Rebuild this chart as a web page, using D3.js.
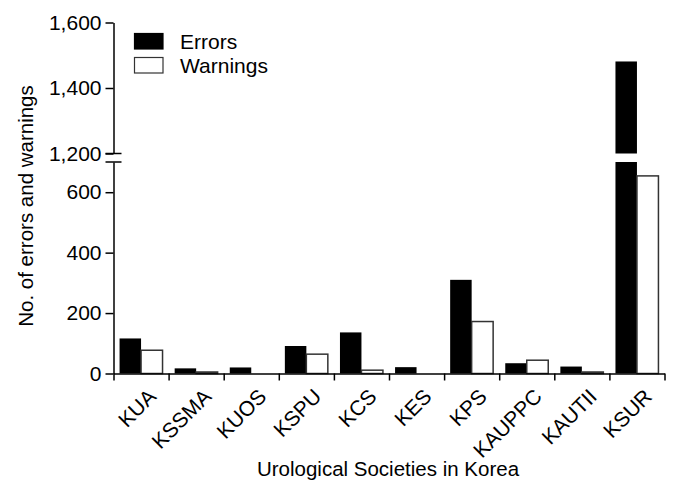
<!DOCTYPE html>
<html>
<head>
<meta charset="utf-8">
<script src="https://cdn.jsdelivr.net/npm/d3@7"></script>
<style>
  body { margin: 0; background: #fff; }
  text { font-family: "Liberation Sans", Arial, sans-serif; }
</style>
</head>
<body>
<div class="chart-wrapper"></div>
<script>
const societies = ['KUA', 'KSSMA', 'KUOS', 'KSPU', 'KCS', 'KES', 'KPS', 'KAUPPC', 'KAUTII', 'KSUR'];
const errors = [116, 17, 20, 91, 136, 21, 310, 34, 23, 1481];
const warnings = [77, 5, 0, 64, 11, 0, 172, 44, 5, 654];
const lowTicks = [0, 200, 400, 600];
const highTicks = [1200, 1400, 1600];
const lowDomain = [0, 700];
const highDomain = [1200, 1600];

function drawChart() {
    const dims = {
        width: 675,
        height: 491,
        left: 113.5,
        right: 664.5,
        bottom: 373.5,
        lowTop: 162,
        highBottom: 153.5,
        top: 22.5,
    };

    const svg = d3.select('.chart-wrapper')
        .append('svg')
        .attr('width', dims.width)
        .attr('height', dims.height);

    const x = d3.scaleBand()
        .domain(societies)
        .range([dims.left, dims.right])
        .paddingInner(0.22)
        .paddingOuter(0.11);

    const xEdges = d3.scaleLinear()
        .domain([0, societies.length])
        .range([dims.left, dims.right]);

    const yLow = d3.scaleLinear().domain(lowDomain).range([dims.bottom, dims.lowTop]);
    const yHigh = d3.scaleLinear().domain(highDomain).range([dims.highBottom, dims.top]);

    const bw = x.bandwidth() / 2;
    const data = societies.map((s, i) => ({ name: s, errors: errors[i], warnings: warnings[i] }));

    const bars = svg.append('g');

    // errors, lower segment (clipped at the break)
    bars.selectAll('.err-low')
        .data(data)
        .join('rect')
        .attr('x', d => x(d.name))
        .attr('width', bw)
        .attr('y', d => yLow(Math.min(d.errors, lowDomain[1])))
        .attr('height', d => yLow(0) - yLow(Math.min(d.errors, lowDomain[1])))
        .attr('fill', '#000');

    // errors, upper segment
    bars.selectAll('.err-high')
        .data(data.filter(d => d.errors > highDomain[0]))
        .join('rect')
        .attr('x', d => x(d.name))
        .attr('width', bw)
        .attr('y', d => yHigh(d.errors))
        .attr('height', d => yHigh(highDomain[0]) - yHigh(d.errors))
        .attr('fill', '#000');

    bars.selectAll('.warn')
        .data(data.filter(d => d.warnings > 0))
        .join('rect')
        .attr('x', d => x(d.name) + bw)
        .attr('width', bw)
        .attr('y', d => yLow(d.warnings))
        .attr('height', d => yLow(0) - yLow(d.warnings))
        .attr('fill', '#fff')
        .attr('stroke', '#333')
        .attr('stroke-width', 1.5);

    // y axes with break
    const yAxisLow = d3.axisLeft(yLow).tickValues(lowTicks).tickSize(8).tickPadding(4).tickSizeOuter(0);
    const yAxisHigh = d3.axisLeft(yHigh).tickValues(highTicks).tickSize(8).tickPadding(4).tickSizeOuter(0)
        .tickFormat(d3.format(','));

    [yAxisLow, yAxisHigh].forEach(ax => {
        const g = svg.append('g')
            .attr('transform', `translate(${dims.left},0)`)
            .call(ax);
        g.selectAll('path, line').attr('stroke', '#000').attr('stroke-width', 1.5);
        g.selectAll('text').style('font-size', '21px').attr('fill', '#000');
    });

    // break marks
    svg.append('g')
        .selectAll('line')
        .data([yHigh(highDomain[0]), yLow(lowDomain[1])])
        .join('line')
        .attr('x1', dims.left - 8)
        .attr('x2', dims.left + 8)
        .attr('y1', d => d)
        .attr('y2', d => d)
        .attr('stroke', '#000')
        .attr('stroke-width', 1.5);

    // x axis: ticks at group edges
    const xAxis = d3.axisBottom(xEdges).tickValues(d3.range(societies.length + 1))
        .tickSize(7).tickSizeOuter(0).tickFormat('');
    const gx = svg.append('g')
        .attr('transform', `translate(0,${dims.bottom})`)
        .call(xAxis);
    gx.selectAll('path, line').attr('stroke', '#000').attr('stroke-width', 1.5);

    const xLabels = d3.axisBottom(x).tickSize(0).tickPadding(0);
    const gl = svg.append('g')
        .attr('transform', `translate(0,${dims.bottom})`)
        .call(xLabels);
    gl.select('.domain').remove();
    gl.selectAll('text')
        .style('font-size', '21px')
        .attr('fill', '#000')
        .attr('text-anchor', 'end')
        .attr('dy', '0.7em')
        .attr('transform', 'translate(6,14) rotate(-45)');

    svg.append('text')
        .attr('x', 388)
        .attr('y', 476)
        .attr('text-anchor', 'middle')
        .style('font-size', '20.5px')
        .text('Urological Societies in Korea');

    svg.append('text')
        .attr('transform', `translate(33,206) rotate(-90)`)
        .attr('text-anchor', 'middle')
        .style('font-size', '20.5px')
        .text('No. of errors and warnings');

    // legend
    const legendItems = [
        { label: 'Errors', fill: '#000', stroke: '#000' },
        { label: 'Warnings', fill: '#fff', stroke: '#333' },
    ];
    const legend = svg.append('g').attr('transform', 'translate(134.5,33.5)');
    legend.selectAll('rect')
        .data(legendItems)
        .join('rect')
        .attr('x', 0)
        .attr('y', (d, i) => i * 24)
        .attr('width', 28.5)
        .attr('height', 15.5)
        .attr('fill', d => d.fill)
        .attr('stroke', d => d.stroke)
        .attr('stroke-width', 1.2);
    legend.selectAll('text')
        .data(legendItems)
        .join('text')
        .attr('x', 45.5)
        .attr('y', (d, i) => i * 24 + 15.5)
        .style('font-size', '21px')
        .text(d => d.label);
}

drawChart();
</script>
</body>
</html>
